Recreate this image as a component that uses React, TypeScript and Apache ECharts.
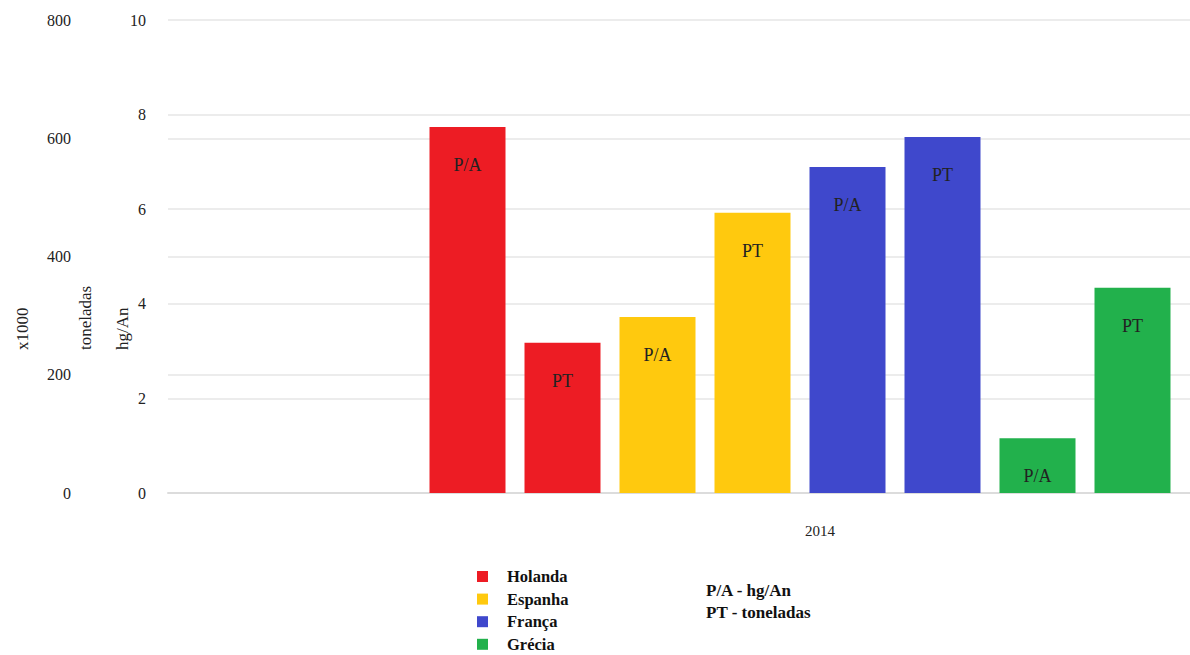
import React, { useEffect, useRef } from "react";
import * as echarts from "echarts";

const categories = ["2014"];
const countries = ["Holanda", "Espanha", "França", "Grécia"];
const colors = ["#ED1C24", "#FFC90E", "#3F48CC", "#22B14C"];
const paValues = [7.74, 3.72, 6.89, 1.16]; // hg/An
const ptValues = [254, 474, 602, 347]; // x1000 toneladas
const leftTicks = { min: 0, max: 10, interval: 2 };
const outerTicks = { min: 0, max: 800, interval: 200 };

const serif = "'Liberation Serif', 'Times New Roman', serif";

export default function App() {
  const ref = useRef<HTMLDivElement>(null);
  useEffect(() => {
    document.body.style.margin = "0";
    const chart = echarts.init(ref.current!, undefined, { renderer: "svg" });
    const series: any[] = [];
    countries.forEach((c, i) => {
      series.push({
        name: c,
        type: "bar",
        yAxisIndex: 0,
        data: [paValues[i]],
        barWidth: 76,
        barGap: "25%",
        itemStyle: { color: colors[i] },
        label: {
          show: true,
          position: "insideTop",
          distance: 29,
          formatter: "P/A",
          color: "#222",
          fontFamily: serif,
          fontSize: 18,
        },
      });
      series.push({
        name: c,
        type: "bar",
        yAxisIndex: 1,
        data: [ptValues[i]],
        barWidth: 76,
        barGap: "25%",
        itemStyle: { color: colors[i] },
        label: {
          show: true,
          position: "insideTop",
          distance: 29,
          formatter: "PT",
          color: "#222",
          fontFamily: serif,
          fontSize: 18,
        },
      });
    });
    chart.setOption({
      animation: false,
      grid: { left: 168, top: 20, bottom: 207, right: 0 },
      legend: {
        data: countries,
        orient: "vertical",
        left: 477,
        top: 567,
        padding: 0,
        itemWidth: 11,
        itemHeight: 11,
        itemGap: 3.6,
        icon: "rect",
        selectedMode: false,
        textStyle: {
          fontFamily: serif,
          fontWeight: "bold",
          fontSize: 16.5,
          lineHeight: 19,
          color: "#111",
          padding: [0, 0, 0, 14],
        },
      },
      xAxis: {
        type: "category",
        data: categories,
        axisLine: { lineStyle: { color: "#dcdcdc", width: 2 } },
        axisTick: { alignWithLabel: true, length: 6, lineStyle: { color: "#ccc" } },
        axisLabel: {
          margin: 30,
          fontFamily: serif,
          fontSize: 15,
          color: "#222",
          padding: [0, 0, 0, 40],
        },
      },
      yAxis: [
        {
          type: "value",
          ...leftTicks,
          position: "left",
          axisLine: { show: false },
          axisTick: { show: false },
          axisLabel: { margin: 22, fontFamily: serif, fontSize: 16, color: "#222" },
          splitLine: { lineStyle: { color: "#ececec", width: 2 } },
        },
        {
          type: "value",
          ...outerTicks,
          position: "left",
          offset: 77,
          axisLine: { show: false },
          axisTick: { show: false },
          axisLabel: { margin: 20, fontFamily: serif, fontSize: 16, color: "#222" },
          splitLine: { show: true, lineStyle: { color: "#ececec", width: 2 } },
        },
      ],
      graphic: [
        {
          type: "text",
          x: 22,
          y: 350,
          rotation: Math.PI / 2,
          style: { text: "x1000", fontFamily: serif, fontSize: 17, fill: "#222", align: "left", verticalAlign: "middle" },
        },
        {
          type: "text",
          x: 85,
          y: 350,
          rotation: Math.PI / 2,
          style: { text: "toneladas", fontFamily: serif, fontSize: 17, fill: "#222", align: "left", verticalAlign: "middle" },
        },
        {
          type: "text",
          x: 122,
          y: 350,
          rotation: Math.PI / 2,
          style: { text: "hg/An", fontFamily: serif, fontSize: 17, fill: "#222", align: "left", verticalAlign: "middle" },
        },
        {
          type: "text",
          x: 706,
          y: 590,
          style: { text: "P/A - hg/An", fontFamily: serif, fontWeight: "bold", fontSize: 17, fill: "#111", verticalAlign: "middle" },
        },
        {
          type: "text",
          x: 706,
          y: 612,
          style: { text: "PT - toneladas", fontFamily: serif, fontWeight: "bold", fontSize: 17, fill: "#111", verticalAlign: "middle" },
        },
      ],
      series,
    });
    return () => chart.dispose();
  }, []);
  return (
    <div style={{ width: 1190, height: 655, overflow: "hidden", position: "relative" }}>
      <div ref={ref} style={{ width: 1432, height: 700 }} />
    </div>
  );
}
